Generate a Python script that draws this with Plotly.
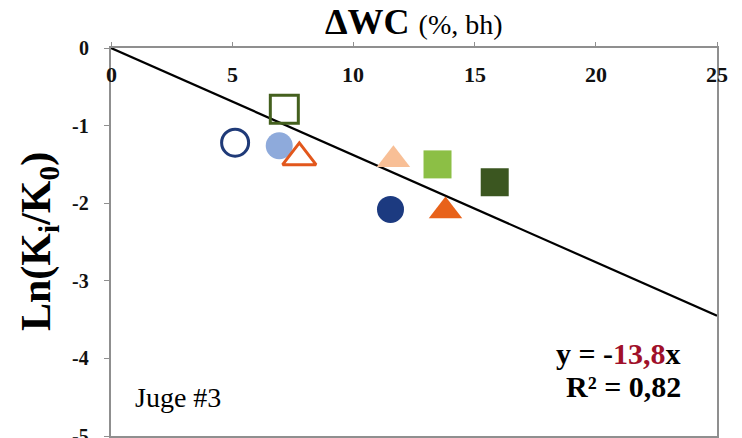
import plotly.graph_objects as go

# Data
labels = ["A-open", "A-fill", "B-open", "C-open", "C-light", "B-light", "B-dark", "A-dark", "C-dark"]
x_vals = [5.12, 6.94, 7.15, 7.77, 11.65, 13.47, 15.83, 11.53, 13.80]
y_vals = [-1.22, -1.26, -0.79, -1.41, -1.44, -1.50, -1.73, -2.08, -2.10]
symbols = ["circle-open", "circle", "square-open", "triangle-up-open", "triangle-up",
           "square", "square", "circle", "triangle-up"]
colors = ["#1f3a78", "#8eaadb", "#44601e", "#e2571c", "#f8bf96", "#8cbf45", "#3b5620",
          "#1c3a80", "#e8621a"]
slope = -0.138
fit_x = [0, 25]
fit_y = [slope * v for v in fit_x]
x_ticks = [0, 5, 10, 15, 20, 25]
x_tick_text = ["0", "5", "10", "15", "20", "25"]
y_ticks = [0, -1, -2, -3, -4, -5]
y_tick_text = ["0", "-1", "-2", "-3", "-4", "-5"]

fig = go.Figure()
fig.add_trace(go.Scatter(x=fit_x, y=fit_y, mode="lines",
                         line=dict(color="black", width=2.2), showlegend=False, hoverinfo="skip"))
for xv, yv, s, c in zip(x_vals, y_vals, symbols, colors):
    if s.startswith("circle"):
        sz = 27
    elif s.startswith("square"):
        sz = 28
    else:
        sz = 29
    fig.add_trace(go.Scatter(x=[xv], y=[yv], mode="markers", showlegend=False,
                             marker=dict(symbol=s, size=sz, color=c,
                                         line=dict(width=3, color=c) if "open" in s else dict(width=0))))

serif = "Liberation Serif"
axis_gray = "#8f8f8f"

# tick labels placed at the axis tick values (labels sit inside, below the top axis)
tick_annots = []
for v, t in zip(x_ticks, x_tick_text):
    tick_annots.append(dict(text="<b>" + t + "</b>", x=v, y=1.0, xref="x", yref="paper",
                            yanchor="middle", xanchor="center", yshift=-26, showarrow=False,
                            font=dict(family=serif, size=22, color="#111")))
for v, t in zip(y_ticks, y_tick_text):
    tick_annots.append(dict(text="<b>" + t + "</b>", x=0, y=v, xref="paper", yref="y",
                            xanchor="right", yanchor="middle", xshift=-20, showarrow=False,
                            font=dict(family=serif, size=20, color="#111")))

fig.update_layout(
    width=742, height=438,
    margin=dict(l=111, r=25, t=48, b=0),
    paper_bgcolor="white", plot_bgcolor="white",
    font=dict(family=serif, color="black"),
    xaxis=dict(range=[0, 25], side="top", tickvals=x_ticks, showticklabels=False,
               showgrid=False, zeroline=False, showline=True, linecolor=axis_gray, linewidth=2,
               mirror=True, ticks="outside", ticklen=4, tickcolor=axis_gray),
    yaxis=dict(range=[-5, 0], tickvals=y_ticks, showticklabels=False,
               showgrid=False, zeroline=False, showline=True, linecolor=axis_gray, linewidth=2,
               mirror=True, ticks="outside", ticklen=5, tickcolor=axis_gray),
    annotations=tick_annots + [
        dict(text="<b>ΔWC</b> <span style='font-size:28px'>(%, bh)</span>", x=0.5, y=1.0,
             xref="paper", yref="paper", xanchor="center", yanchor="bottom", yshift=4,
             showarrow=False, font=dict(family=serif, size=36)),
        dict(text="<b>Ln(K<sub>i</sub>/K<sub>0</sub>)</b>", x=-0.165, y=0.5,
             xref="paper", yref="paper", textangle=-90, showarrow=False,
             font=dict(family=serif, size=42)),
        dict(text="Juge #3", x=0.9, y=-4.51, xref="x", yref="y", xanchor="left",
             showarrow=False, font=dict(family=serif, size=28)),
        dict(text="<b>y = -<span style='color:#a0102a'>13,8</span>x</b>", x=23.6, y=-3.94,
             xref="x", yref="y", xanchor="right", showarrow=False,
             font=dict(family=serif, size=30)),
        dict(text="<b>R² = 0,82</b>", x=23.6, y=-4.36, xref="x", yref="y", xanchor="right",
             showarrow=False, font=dict(family=serif, size=30)),
    ],
)
fig.write_html("out.html")
